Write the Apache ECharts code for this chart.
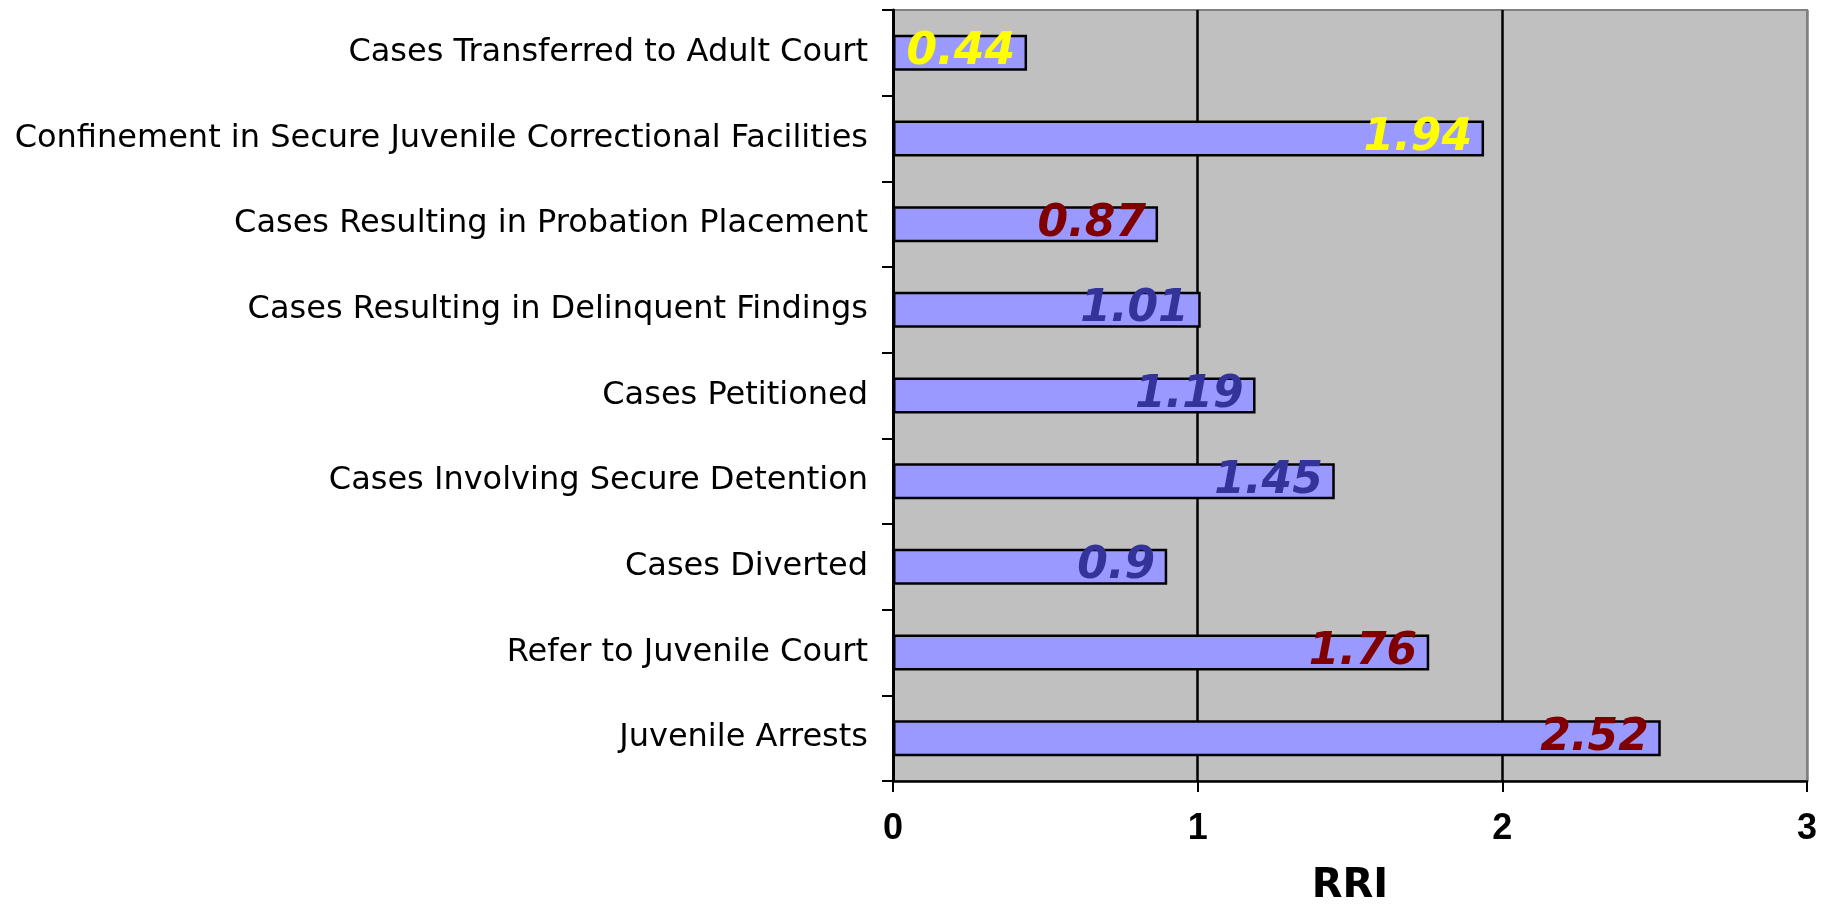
<!DOCTYPE html>
<html>
<head>
<meta charset="utf-8">
<script src="https://cdn.jsdelivr.net/npm/echarts@6/dist/echarts.min.js"></script>
<style>
  html, body { margin: 0; padding: 0; background: #ffffff; }
  #chart { width: 1846px; height: 913px; }
</style>
</head>
<body>
<div id="chart"></div>
<script>
// Decision points, listed top to bottom
const categories = [
  'Cases Transferred to Adult Court',
  'Confinement in Secure Juvenile Correctional Facilities',
  'Cases Resulting in Probation Placement',
  'Cases Resulting in Delinquent Findings',
  'Cases Petitioned',
  'Cases Involving Secure Detention',
  'Cases Diverted',
  'Refer to Juvenile Court',
  'Juvenile Arrests'
];

// Relative Rate Index at each decision point
const rriValues = [0.44, 1.94, 0.87, 1.01, 1.19, 1.45, 0.9, 1.76, 2.52];

// Colour of each value label
const labelColors = ['#FFFF00', '#FFFF00', '#800000', '#333399', '#333399', '#333399', '#333399', '#800000', '#800000'];

const xTicks = [0, 1, 2, 3];

const chart = echarts.init(document.getElementById('chart'), null, { renderer: 'canvas' });

const option = {
  backgroundColor: '#ffffff',
  animation: false,
  grid: {
    left: 893,
    top: 10,
    right: 39,
    bottom: 132,
    containLabel: false,
    outerBoundsMode: 'none',
    show: true,
    backgroundColor: '#C0C0C0',
    borderColor: '#808080',
    borderWidth: 2
  },
  xAxis: {
    type: 'value',
    min: xTicks[0],
    max: xTicks[xTicks.length - 1],
    interval: 1,
    name: 'RRI',
    nameLocation: 'middle',
    nameGap: 86,
    nameTextStyle: {
      fontFamily: 'DejaVu Sans',
      fontWeight: 'bold',
      fontSize: 40,
      color: '#000000'
    },
    axisLine: { show: true, lineStyle: { color: '#000000', width: 2.5 } },
    axisTick: { show: true, length: 11, lineStyle: { color: '#000000', width: 2 } },
    axisLabel: {
      margin: 30,
      fontFamily: 'Liberation Sans',
      fontWeight: 'bold',
      fontSize: 36,
      color: '#000000'
    },
    splitLine: {
      show: true,
      lineStyle: { color: ['#000000', '#000000', '#000000', '#808080'], width: 2.5 }
    }
  },
  yAxis: {
    type: 'category',
    data: categories,
    inverse: true,
    axisLine: { show: true, lineStyle: { color: '#000000', width: 3 } },
    axisTick: { show: true, length: 11, lineStyle: { color: '#000000', width: 2 } },
    axisLabel: {
      margin: 25,
      fontFamily: 'DejaVu Sans',
      fontSize: 32,
      color: '#000000'
    },
    splitLine: { show: false }
  },
  series: [{
    type: 'bar',
    data: rriValues.map((v, i) => ({
      value: v,
      label: { color: labelColors[i] }
    })),
    barWidth: 36,
    itemStyle: {
      color: '#9999FF',
      borderColor: '#000000',
      borderWidth: 2.5
    },
    label: {
      show: true,
      position: 'insideRight',
      distance: 12,
      fontFamily: 'DejaVu Sans',
      fontStyle: 'italic',
      fontWeight: 'bold',
      fontSize: 44,
      formatter: p => String(p.value)
    }
  }]
};

chart.setOption(option);
</script>
</body>
</html>
